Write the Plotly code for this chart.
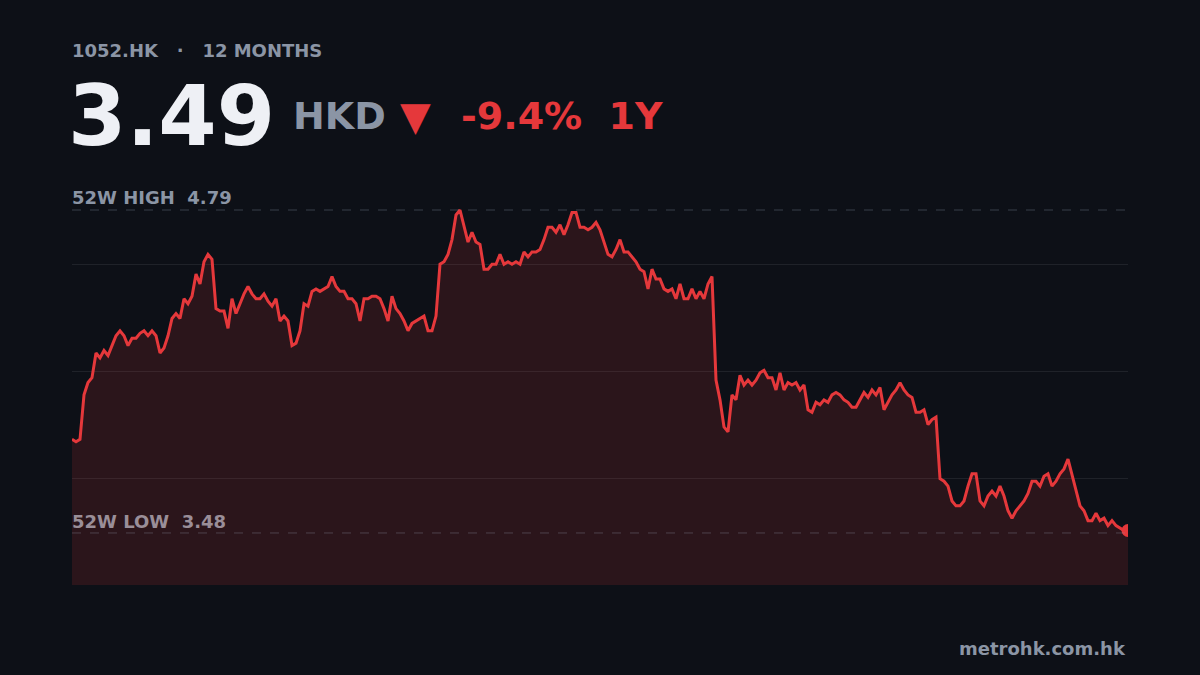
import plotly.graph_objects as go

ticker = "1052.HK"
period = "12 MONTHS"
last_price = 3.49
change_pct = "-9.4%"
high_52w = 4.79
low_52w = 3.48
prices = [3.86,3.85,3.86,4.04,4.09,4.11,4.21,4.19,4.22,4.20,4.24,4.28,4.30,4.28,4.24,4.27,4.27,4.29,4.30,4.28,4.30,4.28,4.21,4.23,4.28,4.35,4.37,4.35,4.43,4.41,4.44,4.53,4.49,4.58,4.61,4.59,4.39,4.38,4.38,4.31,4.43,4.37,4.41,4.45,4.48,4.45,4.43,4.43,4.45,4.42,4.40,4.43,4.34,4.36,4.34,4.24,4.25,4.30,4.41,4.40,4.46,4.47,4.46,4.47,4.48,4.52,4.48,4.46,4.46,4.43,4.43,4.41,4.34,4.43,4.43,4.44,4.44,4.43,4.39,4.34,4.44,4.39,4.37,4.34,4.30,4.33,4.34,4.35,4.36,4.30,4.30,4.36,4.57,4.58,4.61,4.67,4.77,4.79,4.73,4.66,4.70,4.66,4.65,4.55,4.55,4.57,4.57,4.61,4.57,4.58,4.57,4.58,4.57,4.62,4.60,4.62,4.62,4.63,4.67,4.72,4.72,4.70,4.73,4.69,4.73,4.78,4.78,4.72,4.72,4.71,4.72,4.74,4.71,4.66,4.61,4.60,4.63,4.67,4.62,4.62,4.60,4.58,4.55,4.54,4.47,4.55,4.51,4.51,4.47,4.46,4.47,4.43,4.49,4.43,4.43,4.47,4.43,4.46,4.43,4.49,4.52,4.10,4.02,3.91,3.89,4.04,4.02,4.12,4.08,4.10,4.08,4.10,4.13,4.14,4.11,4.11,4.06,4.13,4.06,4.09,4.08,4.09,4.06,4.08,3.98,3.97,4.01,4.00,4.02,4.01,4.04,4.05,4.04,4.02,4.01,3.99,3.99,4.02,4.05,4.03,4.06,4.04,4.07,3.98,4.01,4.04,4.06,4.09,4.06,4.04,4.03,3.97,3.97,3.98,3.92,3.94,3.95,3.70,3.69,3.67,3.61,3.59,3.59,3.61,3.67,3.72,3.72,3.61,3.59,3.63,3.65,3.63,3.67,3.63,3.57,3.54,3.57,3.59,3.61,3.64,3.69,3.69,3.67,3.71,3.72,3.67,3.69,3.72,3.74,3.78,3.72,3.65,3.59,3.57,3.53,3.53,3.56,3.53,3.54,3.51,3.53,3.51,3.50,3.49,3.49]

x = list(range(len(prices)))
BG = "#0d1017"
RED = "#e5383b"
GRAY = "#8b95a5"
ymin, ymax = 3.269, 5.005
grid = [ymin + k * (ymax - ymin) / 4 for k in range(5)]

fig = go.Figure()
fig.add_trace(go.Scatter(x=x, y=prices, mode="lines", line=dict(color=RED, width=3),
                         fill="tozeroy", fillcolor="rgba(229,56,59,0.14)", hoverinfo="skip"))
fig.add_trace(go.Scatter(x=[x[-1]], y=[prices[-1]], mode="markers",
                         marker=dict(color=RED, size=13), hoverinfo="skip"))
for v in (high_52w, low_52w):
    fig.add_shape(type="line", xref="paper", x0=0, x1=1, y0=v, y1=v,
                  line=dict(color="rgba(140,150,165,0.35)", width=1, dash="dash"))

F = "DejaVu Sans"
def ann(text, x, y, size, color, xanchor="left", yanchor="middle"):
    fig.add_annotation(text=text, xref="paper", yref="paper", x=x, y=y, showarrow=False,
                       xanchor=xanchor, yanchor=yanchor,
                       font=dict(family=F, size=size, color=color))

px = lambda p: (p - 72) / 1056
py = lambda p: (585 - p) / 428
ann(f"<b>{ticker}   ·   {period}</b>", px(70), py(50), 18, GRAY)
ann(f"<b>{last_price:.2f}</b>", px(66), py(116), 84, "#eef0f5")
ann("<b>HKD</b>", px(291), py(116), 38, GRAY)
ann("<b>▼</b>", px(398), py(116), 40, RED)
ann(f"<b>{change_pct}  1Y</b>", px(459), py(116), 38, RED)
ann(f"<b>52W HIGH  {high_52w:.2f}</b>", px(70), py(197), 18, GRAY)
ann(f"<b>52W LOW  {low_52w:.2f}</b>", px(70), py(521), 18, "#9a8e98")
ann("<b>metrohk.com.hk</b>", 1, py(648), 18, GRAY, xanchor="right")

fig.update_layout(
    width=1200, height=675, paper_bgcolor=BG, plot_bgcolor=BG, showlegend=False,
    margin=dict(l=72, r=72, t=157, b=90),
    xaxis=dict(range=[0, len(prices) - 1], visible=False, fixedrange=True),
    yaxis=dict(range=[ymin, ymax], tickvals=grid, showticklabels=False,
               gridcolor="rgba(255,255,255,0.08)", gridwidth=1, zeroline=False, fixedrange=True),
)
fig.write_html("out.html", config={"displayModeBar": False},
               post_script="document.body.style.margin='0';document.body.style.background='#0d1017';")
